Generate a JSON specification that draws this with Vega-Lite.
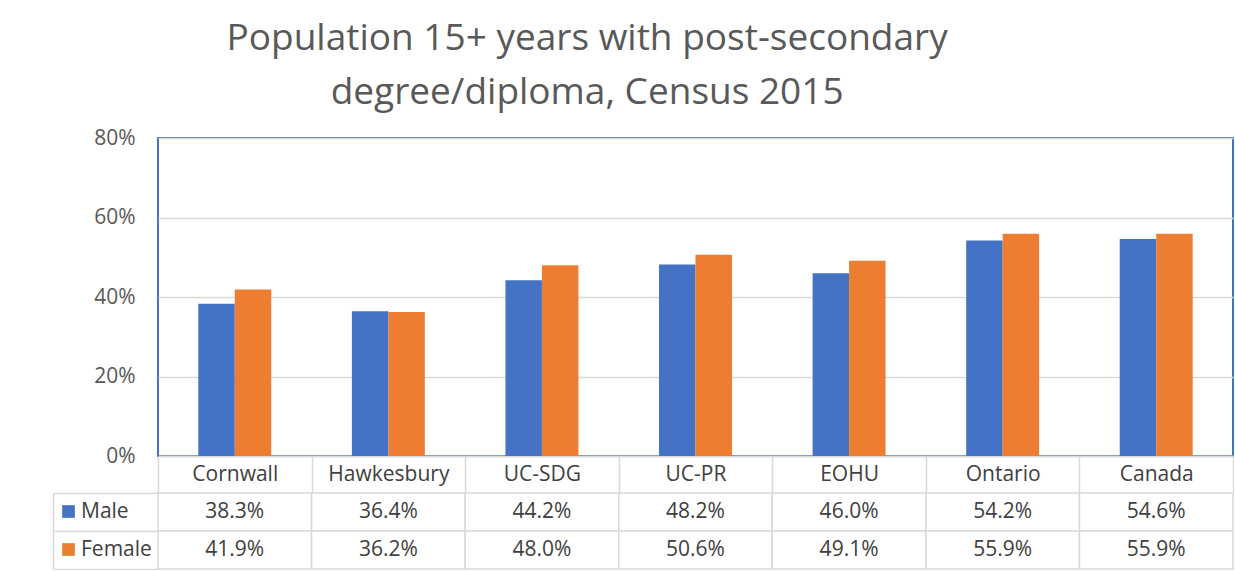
{
  "$schema": "https://vega.github.io/schema/vega-lite/v6.json",
  "padding": {"left": 52, "top": 20, "right": 0, "bottom": 0},
  "background": "white",
  "title": {
    "text": ["Population 15+ years with post-secondary", "degree/diploma, Census 2015"],
    "font": "Open Sans",
    "fontSize": 37,
    "fontWeight": "normal",
    "color": "#595959",
    "anchor": "middle",
    "dx": -56,
    "lineHeight": 54,
    "offset": 14
  },
  "datasets": {
    "d": [
      {"region": "Cornwall", "sex": "Male", "v": 0.383},
      {"region": "Cornwall", "sex": "Female", "v": 0.419},
      {"region": "Hawkesbury", "sex": "Male", "v": 0.364},
      {"region": "Hawkesbury", "sex": "Female", "v": 0.362},
      {"region": "UC-SDG", "sex": "Male", "v": 0.442},
      {"region": "UC-SDG", "sex": "Female", "v": 0.480},
      {"region": "UC-PR", "sex": "Male", "v": 0.482},
      {"region": "UC-PR", "sex": "Female", "v": 0.506},
      {"region": "EOHU", "sex": "Male", "v": 0.460},
      {"region": "EOHU", "sex": "Female", "v": 0.491},
      {"region": "Ontario", "sex": "Male", "v": 0.542},
      {"region": "Ontario", "sex": "Female", "v": 0.559},
      {"region": "Canada", "sex": "Male", "v": 0.546},
      {"region": "Canada", "sex": "Female", "v": 0.559}
    ]
  },
  "spacing": -11,
  "vconcat": [
    {
      "width": 1075,
      "height": 318,
      "view": {"stroke": "#4472C4", "strokeWidth": 2},
      "data": {"name": "d"},
      "mark": {"type": "bar"},
      "encoding": {
        "x": {
          "field": "region", "type": "nominal", "sort": null,
          "scale": {"paddingInner": 0.525, "paddingOuter": 0.2625},
          "axis": {
            "title": null, "orient": "bottom", "labels": false, "ticks": false,
            "domainColor": "#D9D9D9", "domainWidth": 1.5,
            "minExtent": 0, "maxExtent": 0
          }
        },
        "xOffset": {"field": "sex", "type": "nominal", "sort": ["Male", "Female"]},
        "y": {
          "field": "v", "type": "quantitative",
          "scale": {"domain": [0, 0.8]},
          "axis": {
            "title": null, "format": "%", "values": [0, 0.2, 0.4, 0.6, 0.8],
            "domain": false, "ticks": false, "labelPadding": 23,
            "labelFont": "Open Sans", "labelFontSize": 21, "labelColor": "#595959",
            "gridColor": "#D9D9D9", "gridWidth": 1.5
          }
        },
        "color": {
          "field": "sex", "type": "nominal", "sort": ["Male", "Female"],
          "scale": {"domain": ["Male", "Female"], "range": ["#4472C4", "#ED7D31"]},
          "legend": {
            "orient": "none", "legendX": -100, "legendY": 363,
            "title": null, "symbolType": "square", "symbolSize": 160,
            "symbolStrokeWidth": 0, "labelFont": "Open Sans", "labelFontSize": 21,
            "labelColor": "#404040", "rowPadding": 16, "labelOffset": 2
          }
        }
      }
    },
    {
      "width": 1075,
      "height": 76,
      "view": {"stroke": null},
      "data": {"name": "d"},
      "encoding": {
        "x": {
          "field": "region", "type": "nominal", "sort": null, "scale": {"padding": 0},
          "axis": {
            "title": null, "orient": "top", "labelAngle": 0, "domain": false,
            "ticks": true, "tickBand": "extent", "tickSize": 36,
            "tickColor": "#D9D9D9", "tickWidth": 1.5,
            "labelFont": "Open Sans", "labelFontSize": 21, "labelColor": "#404040",
            "labelPadding": -17, "labelBaseline": "middle",
            "minExtent": 36, "maxExtent": 36
          }
        },
        "y": {
          "field": "sex", "type": "nominal", "sort": ["Male", "Female"],
          "scale": {"padding": 0},
          "axis": {
            "title": null, "labels": false, "offset": 105,
            "domain": true, "domainColor": "#D9D9D9", "domainWidth": 1.5,
            "ticks": true, "tickBand": "extent", "tickSize": -105,
            "tickColor": "#D9D9D9", "tickWidth": 1.5, "grid": false
          }
        }
      },
      "layer": [
        {"mark": {"type": "rect", "fill": "white", "stroke": "#D9D9D9", "strokeWidth": 1.5}},
        {
          "mark": {"type": "text", "font": "Open Sans", "fontSize": 21, "color": "#404040"},
          "encoding": {"text": {"field": "v", "type": "quantitative", "format": ".1%"}}
        }
      ]
    }
  ]
}
